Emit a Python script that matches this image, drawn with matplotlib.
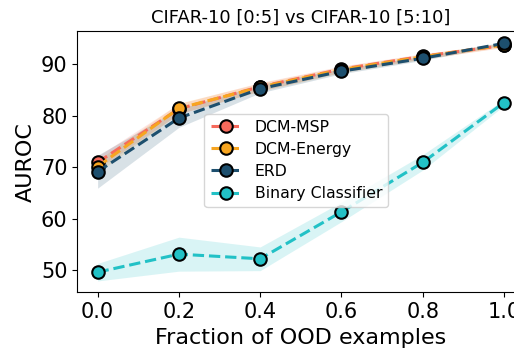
import matplotlib
matplotlib.use("Agg")
import matplotlib.pyplot as plt
import numpy as np

fractions = [0.0, 0.2, 0.4, 0.6, 0.8, 1.0]

msp_mean = [70.9, 81.3, 85.6, 89.0, 91.5, 93.6]
msp_std = [1.2, 1.0, 0.8, 0.6, 0.5, 0.4]

energy_mean = [70.1, 81.4, 85.5, 88.9, 91.4, 93.7]
energy_std = [1.2, 1.0, 0.8, 0.6, 0.5, 0.4]

erd_mean = [69.1, 79.5, 85.2, 88.6, 91.1, 94.0]
erd_std = [3.2, 1.8, 0.8, 0.5, 0.4, 0.3]

bin_mean = [49.6, 53.1, 52.2, 61.3, 70.9, 82.5]
bin_std = [1.7, 3.3, 2.3, 1.9, 1.5, 0.6]

labels = ["DCM-MSP", "DCM-Energy", "ERD", "Binary Classifier"]
colors = ["#f66a5c", "#f7a520", "#1d4f6e", "#22c1c6"]
series = [(msp_mean, msp_std), (energy_mean, energy_std),
          (erd_mean, erd_std), (bin_mean, bin_std)]

fig = plt.figure(figsize=(5.14, 3.52), dpi=100)
ax = fig.add_axes([77.3 / 514, 1 - 292.3 / 352, 1 - 77.3 / 514 + 0.02, (292.3 - 31) / 352])

x = np.array(fractions)
for (m, s), lab, c in zip(series, labels, colors):
    m = np.array(m)
    s = np.array(s)
    ax.fill_between(x, m - s, m + s, color=c, alpha=0.17, linewidth=0)
    ax.plot(x, m, linestyle="--", color=c, linewidth=2.2, marker="o",
            markersize=9, markeredgecolor="black", markeredgewidth=1.5, label=lab)

ax.set_xlim(-0.05, 1.05)
ax.set_ylim(45.7, 96.4)
ax.set_xticks(fractions)
ax.set_yticks([50, 60, 70, 80, 90])
ax.tick_params(labelsize=15)
ax.set_xlabel("Fraction of OOD examples", fontsize=16)
ax.set_ylabel("AUROC", fontsize=16)
ax.set_title("CIFAR-10 [0:5] vs CIFAR-10 [5:10]", fontsize=13)
ax.legend(loc="upper left", bbox_to_anchor=(0.267, 0.714), fontsize=11.3,
          handlelength=2, labelspacing=0.45)

fig.savefig("out.png", dpi=100)
